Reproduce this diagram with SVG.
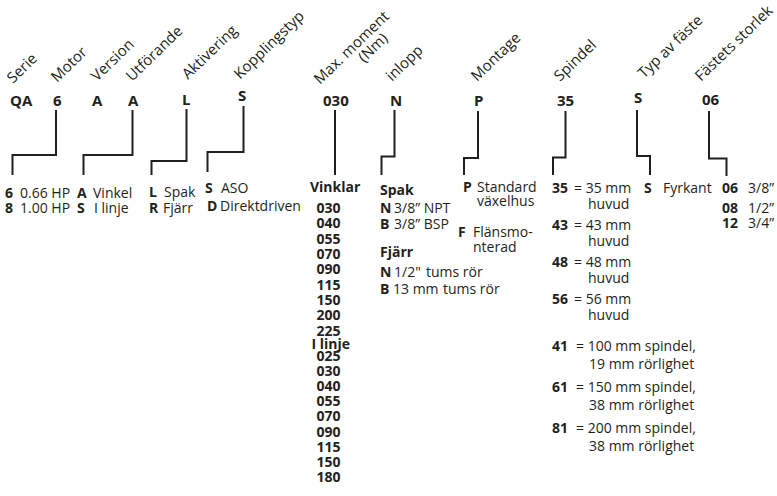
<svg xmlns="http://www.w3.org/2000/svg" width="777" height="496" viewBox="0 0 777 496">
<style>
text { font-family: "Open Sans", "Liberation Sans", sans-serif; fill: #231f20; }
.h { font-size: 15px; }
.c { font-size: 15px; font-weight: bold; }
.t { font-size: 14px; }
.b { font-size: 14px; font-weight: bold; }
.ln { fill: none; stroke: #231f20; stroke-width: 2; stroke-linejoin: miter; }
</style>
<rect width="777" height="496" fill="#ffffff"/>

<g id="serie">
  <text class="h" x="13" y="84" transform="rotate(-44 13 84)">Serie</text>
  <text class="c" x="10" y="106">QA</text>
</g>

<g id="motor">
  <text class="h" x="57" y="83" transform="rotate(-44 57 83)">Motor</text>
  <text class="c" x="53" y="106">6</text>
  <text class="b" x="5" y="198">6</text><text class="t" x="20" y="198">0.66 HP</text>
  <text class="b" x="5" y="213">8</text><text class="t" x="20" y="213">1.00 HP</text>
</g>

<g id="version">
  <text class="h" x="97" y="82" transform="rotate(-44 97 82)">Version</text>
  <text class="c" x="92" y="106">A</text>
</g>

<g id="utforande">
  <text class="h" x="132" y="82" transform="rotate(-44 132 82)">Utförande</text>
  <text class="c" x="128" y="106">A</text>
  <text class="b" x="77" y="198">A</text><text class="t" x="93" y="198">Vinkel</text>
  <text class="b" x="77" y="213">S</text><text class="t" x="94" y="213">I linje</text>
</g>

<g id="aktivering">
  <text class="h" x="188" y="80" transform="rotate(-44 188 80)">Aktivering</text>
  <text class="c" x="182" y="105">L</text>
  <text class="b" x="149" y="197">L</text><text class="t" x="164" y="197">Spak</text>
  <text class="b" x="149" y="213">R</text><text class="t" x="163" y="213">Fjärr</text>
</g>

<g id="kopplingstyp">
  <text class="h" x="240" y="80" transform="rotate(-44 240 80)">Kopplingstyp</text>
  <text class="c" x="238" y="101">S</text>
  <text class="b" x="205" y="193">S</text><text class="t" x="221" y="193">ASO</text>
  <text class="b" x="207" y="211">D</text><text class="t" x="220" y="211">Direktdriven</text>
</g>

<g id="maxmoment">
  <text class="h" x="320" y="85" transform="rotate(-44 320 85)">Max. moment<tspan x="367" y="100">(Nm)</tspan></text>
  <text class="c" x="323" y="106">030</text>
  <text class="b" x="310" y="192">Vinklar</text>
  <text class="b" x="316.5" y="213">030</text>
  <text class="b" x="316.5" y="228">040</text>
  <text class="b" x="316.5" y="243.5">055</text>
  <text class="b" x="316.5" y="259">070</text>
  <text class="b" x="316.5" y="274">090</text>
  <text class="b" x="316.5" y="289.5">115</text>
  <text class="b" x="316.5" y="305">150</text>
  <text class="b" x="316.5" y="320">200</text>
  <text class="b" x="316.5" y="335.5">225</text>
  <text class="b" x="311.5" y="348.5">I linje</text>
  <text class="b" x="316.5" y="361">025</text>
  <text class="b" x="316.5" y="376">030</text>
  <text class="b" x="316.5" y="391">040</text>
  <text class="b" x="316.5" y="406">055</text>
  <text class="b" x="316.5" y="421">070</text>
  <text class="b" x="316.5" y="437">090</text>
  <text class="b" x="316.5" y="452">115</text>
  <text class="b" x="316.5" y="467">150</text>
  <text class="b" x="316.5" y="482">180</text>
</g>

<g id="inlopp">
  <text class="h" x="392" y="82" transform="rotate(-44 392 82)">inlopp</text>
  <text class="c" x="390" y="106">N</text>
  <text class="b" x="380" y="195">Spak</text>
  <text class="b" x="380" y="213">N</text><text class="t" x="394" y="213">3/8” NPT</text>
  <text class="b" x="380" y="228.5">B</text><text class="t" x="394" y="228.5">3/8” BSP</text>
  <text class="b" x="380" y="257">Fjärr</text>
  <text class="b" x="380" y="277">N</text><text class="t" x="394" y="277">1/2"</text><text class="t" x="426" y="277">tums rör</text>
  <text class="b" x="380" y="293.5">B</text><text class="t" x="393" y="293.5">13 mm</text><text class="t" x="443" y="293.5">tums rör</text>
</g>

<g id="montage">
  <text class="h" x="477" y="82" transform="rotate(-44 477 82)">Montage</text>
  <text class="c" x="474" y="106">P</text>
  <text class="b" x="463" y="192">P</text><text class="t" x="477" y="192">Standard</text>
  <text class="t" x="477" y="206">växelhus</text>
  <text class="b" x="458" y="237">F</text><text class="t" x="473" y="237">Flänsmo-</text>
  <text class="t" x="473" y="252">nterad</text>
</g>

<g id="spindel">
  <text class="h" x="560" y="82" transform="rotate(-44 560 82)">Spindel</text>
  <text class="c" x="557" y="106">35</text>
  <text class="b" x="552" y="192.5">35</text><text class="t" x="574" y="192.5">= 35 mm</text>
  <text class="t" x="588" y="209">huvud</text>
  <text class="b" x="552" y="229.5">43</text><text class="t" x="574" y="229.5">= 43 mm</text>
  <text class="t" x="588" y="246">huvud</text>
  <text class="b" x="552" y="266.5">48</text><text class="t" x="574" y="266.5">= 48 mm</text>
  <text class="t" x="588" y="283">huvud</text>
  <text class="b" x="552" y="303.5">56</text><text class="t" x="574" y="303.5">= 56 mm</text>
  <text class="t" x="588" y="320">huvud</text>
  <text class="b" x="552" y="351">41</text><text class="t" x="576" y="351">= 100 mm spindel,</text>
  <text class="t" x="589" y="368.5">19 mm rörlighet</text>
  <text class="b" x="552" y="392">61</text><text class="t" x="576" y="392">= 150 mm spindel,</text>
  <text class="t" x="589" y="410">38 mm rörlighet</text>
  <text class="b" x="552" y="433">81</text><text class="t" x="576" y="433">= 200 mm spindel,</text>
  <text class="t" x="589" y="451">38 mm rörlighet</text>
</g>

<g id="typ-av-faste">
  <text class="h" x="644" y="79" transform="rotate(-44 644 79)">Typ av fäste</text>
  <text class="c" x="634" y="103">S</text>
  <text class="b" x="644" y="193">S</text><text class="t" x="663" y="193">Fyrkant</text>
</g>

<g id="fastets-storlek">
  <text class="h" x="701" y="82" font-size="14.5" transform="rotate(-44 701 82)">Fästets storlek</text>
  <text class="c" x="702" y="105">06</text>
  <text class="b" x="722" y="193">06</text><text class="t" x="748" y="193">3/8”</text>
  <text class="b" x="722" y="213">08</text><text class="t" x="748" y="213">1/2”</text>
  <text class="b" x="722" y="228">12</text><text class="t" x="748" y="228">3/4”</text>
</g>

<g id="connectors">
  <path class="ln" d="M56,110 V155 H12.5 V175"/>
  <path class="ln" d="M132.5,110 V155 H83.5 V175"/>
  <path class="ln" d="M186.5,109 V161 H151.5 V175"/>
  <path class="ln" d="M243.5,106 V152 H207.5 V172"/>
  <path class="ln" d="M335,110 V175"/>
  <path class="ln" d="M394.5,110 V156.5 H381.5 V175"/>
  <path class="ln" d="M478,111 V158 H464 V175"/>
  <path class="ln" d="M565.5,111 V157.5 H553 V175"/>
  <path class="ln" d="M637,110 V156 H650 V175"/>
  <path class="ln" d="M709,111 V158.5 H726.5 V176"/>
</g>
</svg>
